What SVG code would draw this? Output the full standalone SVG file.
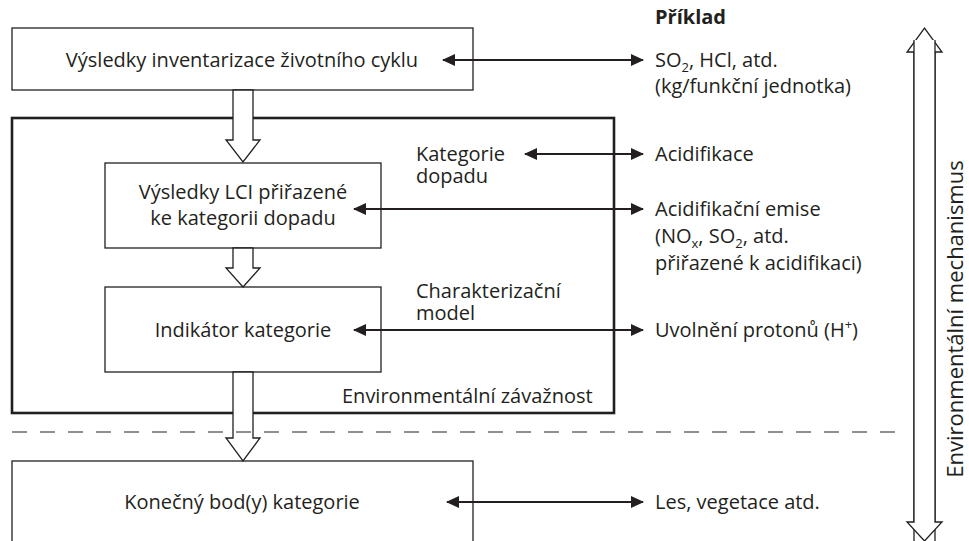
<svg xmlns="http://www.w3.org/2000/svg" width="969" height="541" viewBox="0 0 969 541">
<style>
text{font-family:"Open Sans","Noto Sans","DejaVu Sans",sans-serif;font-size:20px;fill:#231f20}
.c{text-anchor:middle}
.b{font-weight:bold}
.v{font-size:22px}
.box{fill:#fff;stroke:#231f20;stroke-width:1.3}
.big{fill:none;stroke:#231f20;stroke-width:2.6}
.blk{fill:#fff;stroke:#231f20;stroke-width:1.3;stroke-linejoin:miter}
.con{stroke:#231f20;stroke-width:2;fill:none;marker-start:url(#ah);marker-end:url(#ah)}
.dash{stroke:#231f20;stroke-width:1.2;stroke-dasharray:15 13;fill:none}
.sub{font-size:13px}
</style>
<defs>
<marker id="ah" viewBox="0 0 13 12" refX="12" refY="6" markerWidth="13" markerHeight="12" markerUnits="userSpaceOnUse" orient="auto-start-reverse">
<path d="M0,0 L13,6 L0,12 Z" fill="#231f20"/>
</marker>
</defs>

<g id="scope">
<rect class="big" x="12" y="118" width="602" height="295"/>
<text x="342" y="403">Environmentální závažnost</text>
</g>

<g id="lci-results">
<rect class="box" x="12" y="28" width="461" height="62"/>
<text class="c" x="242" y="67">Výsledky inventarizace životního cyklu</text>
</g>

<g id="assigned">
<rect class="box" x="105" y="163" width="276" height="85"/>
<text class="c" x="243" y="199">Výsledky LCI přiřazené</text>
<text class="c" x="243" y="225">ke kategorii dopadu</text>
</g>

<g id="indicator">
<rect class="box" x="105" y="287" width="276" height="85"/>
<text class="c" x="243" y="337">Indikátor kategorie</text>
</g>

<g id="endpoints">
<rect class="box" x="12" y="461" width="461" height="90"/>
<text class="c" x="242" y="509">Konečný bod(y) kategorie</text>
</g>

<g id="impact-category">
<text x="416" y="161">Kategorie</text>
<text x="416" y="183">dopadu</text>
</g>

<g id="char-model">
<text x="416" y="298">Charakterizační</text>
<text x="416" y="320">model</text>
</g>

<g id="examples">
<text class="b" x="655" y="24">Příklad</text>
<text x="655" y="67">SO<tspan class="sub" dy="5">2</tspan><tspan dy="-5">, HCl, atd.</tspan></text>
<text x="655" y="93">(kg/funkční jednotka)</text>
<text x="655" y="161">Acidifikace</text>
<text x="655" y="216">Acidifikační emise</text>
<text x="655" y="243">(NO<tspan class="sub" dy="5">x</tspan><tspan dy="-5">, SO</tspan><tspan class="sub" dy="5">2</tspan><tspan dy="-5">, atd.</tspan></text>
<text x="655" y="270">přiřazené k acidifikaci)</text>
<text x="655" y="337">Uvolnění protonů (H<tspan class="sub" dy="-8">+</tspan><tspan dy="8">)</tspan></text>
<text x="655" y="509">Les, vegetace atd.</text>
</g>

<g id="mechanism">
<path class="blk" d="M914,541 V52 H907 L924.5,28 L942,52 H935 V541"/>
<path class="blk" d="M914,40 V522 H907 L924.5,541 L942,522 H935 V40"/>
<text class="c v" transform="translate(963,319) rotate(-90)">Environmentální mechanismus</text>
</g>

<g id="connectors">
<path class="blk" d="M233,90 V140 H226 L243,162 L260,140 H253 V90 Z"/>
<path class="blk" d="M233,248 V268 H226 L243,287 L260,268 H253 V248 Z"/>
<path class="blk" d="M233,372 V438 H226 L243,461 L260,438 H253 V372 Z"/>
<line class="con" x1="443" y1="60" x2="643" y2="60"/>
<line class="con" x1="525" y1="154" x2="643" y2="154"/>
<line class="con" x1="354" y1="209" x2="643" y2="209"/>
<line class="con" x1="354" y1="330" x2="643" y2="330"/>
<line class="con" x1="447" y1="502" x2="643" y2="502"/>
<line class="dash" x1="12" y1="432" x2="897" y2="432"/>
</g>
</svg>
